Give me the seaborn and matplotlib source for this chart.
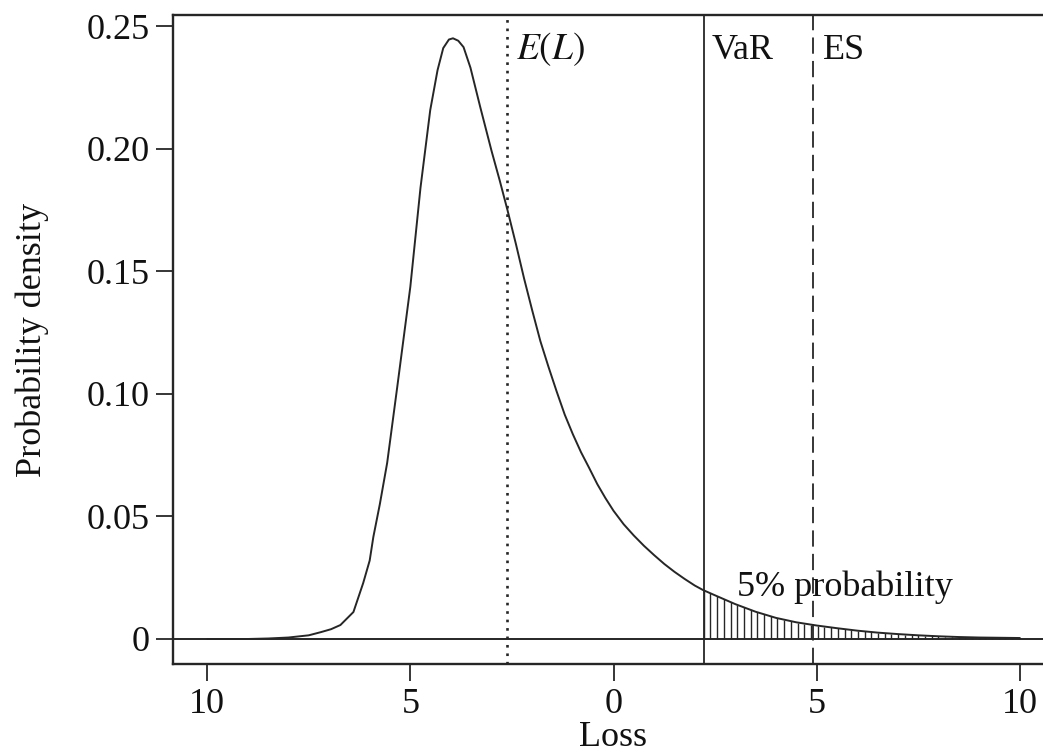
import numpy as np
import pandas as pd
import matplotlib
matplotlib.use("Agg")
import matplotlib.pyplot as plt
import seaborn as sns

# ---- data ----
loss_x = [-10.0, -9.0, -8.5, -8.0, -7.5, -7.2, -6.95, -6.72, -6.4, -6.16, -6.0, -5.91, -5.75,
          -5.57, -5.32, -5.0, -4.75, -4.51, -4.33, -4.19, -4.05, -3.95, -3.82, -3.69, -3.52,
          -3.28, -3.0, -2.8, -2.61, -2.4, -2.2, -2.0, -1.8, -1.6, -1.4, -1.2, -1.0, -0.8,
          -0.6, -0.4, -0.2, 0.0, 0.25, 0.5, 0.75, 1.0, 1.25, 1.5, 1.75, 2.0, 2.2, 2.5, 3.0,
          3.5, 4.0, 4.5, 5.0, 5.5, 6.0, 6.5, 7.0, 7.5, 8.0, 8.5, 9.0, 9.5, 10.0]
density = [0.0, 0.0, 0.0002, 0.0006, 0.0015, 0.0028, 0.0040, 0.0057, 0.0110, 0.0228, 0.0320,
           0.0416, 0.0550, 0.0718, 0.103, 0.1436, 0.184, 0.2157, 0.232, 0.241, 0.2445, 0.245,
           0.2440, 0.2414, 0.233, 0.217, 0.199, 0.187, 0.175, 0.161, 0.147, 0.134, 0.1215,
           0.111, 0.101, 0.0915, 0.0835, 0.0762, 0.0698, 0.0632, 0.0575, 0.0523, 0.0468,
           0.0422, 0.0380, 0.0342, 0.0306, 0.0274, 0.0245, 0.0218, 0.0200, 0.0178, 0.0142,
           0.0111, 0.0086, 0.0068, 0.0055, 0.0044, 0.0034, 0.0026, 0.0020, 0.0015, 0.0011,
           0.0008, 0.0006, 0.0005, 0.0004]
expected_loss = -2.61
var_level = 2.22
es_level = 4.90
x_ticks = [-10, -5, 0, 5, 10]
x_tick_labels = ["10", "5", "0", "5", "10"]
y_ticks = [0, 0.05, 0.10, 0.15, 0.20, 0.25]
y_tick_labels = ["0", "0.05", "0.10", "0.15", "0.20", "0.25"]

df = pd.DataFrame({"Loss": loss_x, "Density": density})

sns.set_theme(style="ticks")
plt.rcParams["font.family"] = ["Liberation Serif", "DejaVu Serif"]
plt.rcParams["mathtext.fontset"] = "stix"

W, H = 1043, 753
fig = plt.figure(figsize=(W / 100, H / 100), dpi=100)
ax = fig.add_axes([173 / W, 1 - 664 / H, (1054 - 173) / W, (664 - 15) / H])

col = "#262626"
ax.axhline(0, color=col, lw=1.4, zorder=1)
sns.lineplot(data=df, x="Loss", y="Density", ax=ax, color=col, lw=1.4, zorder=3)

# hatched tail beyond VaR
hx = np.arange(var_level, 10.0, 0.165)
hy = np.interp(hx, loss_x, density)
ax.vlines(hx, 0, hy, color=col, lw=1.0, zorder=2)

ax.axvline(expected_loss, color=col, lw=1.9, ls=(0, (1, 2.2)), zorder=2)
ax.axvline(var_level, color=col, lw=1.3, zorder=2)
ax.axvline(es_level, color=col, lw=1.3, ls=(0, (9, 4)), zorder=2)

fs = 26
tc = "#111111"
ax.text(expected_loss + 0.2, 0.2365, r"$E(L)$", fontsize=fs + 1, va="baseline", ha="left", color=tc)
ax.text(var_level + 0.2, 0.2365, "VaR", fontsize=fs, va="baseline", ha="left", color=tc)
ax.text(es_level + 0.25, 0.2365, "ES", fontsize=fs, va="baseline", ha="left", color=tc)
ax.text(3.05, 0.0175, "5% probability", fontsize=fs, va="baseline", ha="left", color=tc)

ax.set_xlim(-10.84, 10.84)
ax.set_ylim(-0.0102, 0.2545)
ax.set_xticks(x_ticks)
ax.set_xticklabels(x_tick_labels)
ax.set_yticks(y_ticks)
ax.set_yticklabels(y_tick_labels)
ax.tick_params(direction="out", length=12, width=1.3, colors=col, labelsize=fs, pad=5,
               labelcolor=tc)
for s in ax.spines.values():
    s.set_linewidth(1.7)
    s.set_color(col)
ax.set_xlabel("Loss", fontsize=fs, color=tc, labelpad=0)
ax.set_ylabel("Probability density", fontsize=fs, color=tc, labelpad=27)

fig.savefig("out.png", dpi=100)
